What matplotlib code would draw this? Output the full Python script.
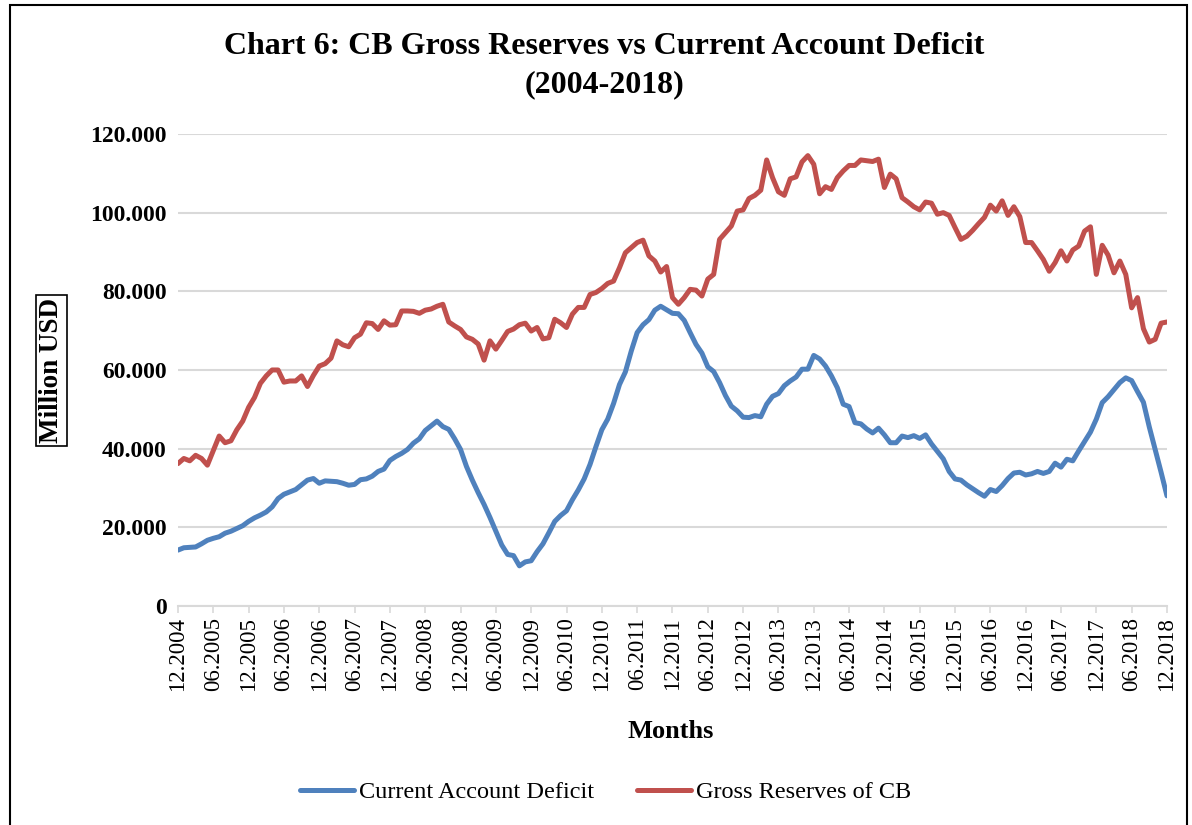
import numpy as np
import pandas as pd
import matplotlib
matplotlib.use("Agg")
import matplotlib.pyplot as plt
from matplotlib.ticker import FuncFormatter
from matplotlib.patches import Rectangle

plt.rcParams['font.family'] = ['Liberation Serif', 'DejaVu Serif']

## monthly values, thousand USD million, 12.2004 .. 12.2018
cad = [14.2, 14.8, 14.9, 15.0, 15.8, 16.7, 17.2, 17.6, 18.5, 19.0, 19.7, 20.4,
       21.5, 22.4, 23.1, 23.9, 25.2, 27.3, 28.4, 29.0, 29.6, 30.8, 32.0, 32.4,
       31.2, 31.8, 31.7, 31.6, 31.2, 30.7, 30.9, 32.1, 32.3, 33.0, 34.2, 34.8,
       37.0, 38.0, 38.8, 39.8, 41.4, 42.5, 44.6, 45.8, 47.0, 45.6, 44.9, 42.5,
       39.8, 35.5, 32.0, 28.8, 25.8, 22.5, 19.0, 15.5, 13.1, 12.8, 10.2, 11.2,
       11.5, 13.8, 15.8, 18.6, 21.5, 23.0, 24.2, 27.0, 29.5, 32.3, 36.0, 40.5,
       44.8, 47.5, 51.5, 56.3, 59.5, 64.8, 69.5, 71.5, 72.8, 75.2, 76.2, 75.3,
       74.4, 74.3, 72.6, 69.5, 66.5, 64.3, 60.8, 59.6, 56.8, 53.5, 50.8, 49.6,
       48.0, 47.9, 48.4, 48.1, 51.3, 53.3, 54.0, 56.0, 57.2, 58.2, 60.2, 60.2,
       63.7, 62.8, 61.0, 58.5, 55.5, 51.3, 50.7, 46.6, 46.3, 45.0, 44.0, 45.2,
       43.5, 41.5, 41.5, 43.2, 42.8, 43.3, 42.6, 43.5, 41.2, 39.3, 37.4, 34.2,
       32.3, 32.0, 30.8, 29.8, 28.8, 27.9, 29.6, 29.1, 30.6, 32.4, 33.8, 34.0,
       33.3, 33.6, 34.2, 33.7, 34.2, 36.3, 35.3, 37.3, 36.9, 39.4, 41.8, 44.2,
       47.5, 51.7, 53.2, 55.0, 56.8, 58.0, 57.3, 54.5, 51.8, 45.5, 39.8, 34.0,
       28.0]

reserves = [36.2, 37.5, 36.9, 38.3, 37.5, 35.8, 39.5, 43.2, 41.5, 42.0, 44.8, 47.0,
            50.5, 53.0, 56.6, 58.5, 60.0, 60.0, 56.9, 57.2, 57.2, 58.5, 55.8, 58.6,
            61.0, 61.6, 63.0, 67.4, 66.4, 65.9, 68.2, 69.1, 72.0, 71.8, 70.3, 72.5,
            71.4, 71.5, 75.0, 75.0, 74.9, 74.4, 75.2, 75.5, 76.2, 76.7, 72.2, 71.2,
            70.3, 68.4, 67.8, 66.6, 62.5, 67.4, 65.3, 67.5, 69.8, 70.4, 71.5, 71.9,
            69.9, 70.8, 67.9, 68.2, 72.9, 72.0, 70.8, 74.2, 75.9, 75.9, 79.2, 79.7,
            80.7, 82.0, 82.6, 86.0, 89.8, 91.1, 92.4, 93.0, 89.0, 87.7, 84.9, 86.3,
            78.4, 76.7, 78.4, 80.5, 80.3, 78.8, 83.1, 84.3, 93.2, 94.9, 96.6, 100.4,
            100.7, 103.6, 104.4, 105.7, 113.4, 108.9, 105.3, 104.4, 108.6, 109.1, 112.9, 114.5,
            112.3, 104.8, 106.6, 105.9, 108.9, 110.6, 112.0, 112.0, 113.4, 113.2, 113.0, 113.6,
            106.4, 109.8, 108.6, 103.8, 102.7, 101.5, 100.7, 102.7, 102.4, 99.6, 100.0, 99.3,
            96.2, 93.2, 94.0, 95.5, 97.2, 98.8, 101.9, 100.4, 103.0, 99.3, 101.5, 99.0,
            92.4, 92.4, 90.3, 88.1, 85.1, 87.3, 90.3, 87.7, 90.5, 91.5, 95.3, 96.4,
            84.3, 91.7, 89.2, 84.7, 87.7, 84.3, 75.8, 78.4, 70.5, 67.1, 67.8, 71.9,
            72.2]

months = pd.date_range("2004-12-01", periods=len(cad), freq="MS")
labels = months.strftime("%m.%Y")

cad = np.array(cad) * 1000
reserves = np.array(reserves) * 1000
x = np.arange(len(months))

fig = plt.figure(figsize=(11.92, 8.25), dpi=100)
ax = fig.add_axes([0.1493, 0.2655, 0.8297, 0.5721])

ax.plot(x, cad, color="#4F81BD", lw=3.6, label="Current Account Deficit", solid_capstyle="round")
ax.plot(x, reserves, color="#C0504D", lw=3.6, label="Gross Reserves of CB", solid_capstyle="round")

ax.set_xlim(0, len(x) - 1)
ax.set_ylim(0, 120000)
ax.set_yticks(np.arange(0, 120001, 20000))
ax.yaxis.set_major_formatter(FuncFormatter(lambda v, p: "0" if v == 0 else f"{v:,.0f}".replace(",", ".")))
ax.grid(axis="y", color="#D9D9D9", lw=1.5)
ax.set_axisbelow(True)

ax.set_xticks(x[::6])
ax.set_xticklabels(labels[::6], rotation=90, fontsize=16.5)
ax.tick_params(axis="x", length=5, color="#D9D9D9", width=1.2, pad=3)
ax.tick_params(axis="y", length=0, pad=8, labelsize=17)
for t in ax.get_yticklabels():
    t.set_fontweight("bold")

for s in ["top", "right", "left"]:
    ax.spines[s].set_visible(False)
ax.spines["bottom"].set_color("#D9D9D9")
ax.spines["bottom"].set_linewidth(1.5)

fig.text(0.507, 0.944, "Chart 6: CB Gross Reserves vs Current Account Deficit",
         ha="center", va="center", fontsize=23, fontweight="bold")
fig.text(0.507, 0.897, "(2004-2018)", ha="center", va="center", fontsize=23, fontweight="bold")

fig.text(0.563, 0.113, "Months", ha="center", va="center", fontsize=19, fontweight="bold")
fig.text(0.043, 0.551, "Million USD", ha="center", va="center", rotation=90, fontsize=19.5,
         fontweight="bold", bbox=dict(boxstyle="square,pad=0.12", fc="white", ec="black", lw=1.2))

fig.legend(loc="center", bbox_to_anchor=(0.508, 0.04), ncol=2, frameon=False, fontsize=17.5,
           handlelength=2.2, handletextpad=0.2, columnspacing=1.8)

## outer border of the chart area
fig.patches.append(Rectangle((0.0085, -0.05), 0.987, 1.044, transform=fig.transFigure,
                             fill=False, ec="black", lw=1.5))

fig.savefig("out.png", dpi=100)
